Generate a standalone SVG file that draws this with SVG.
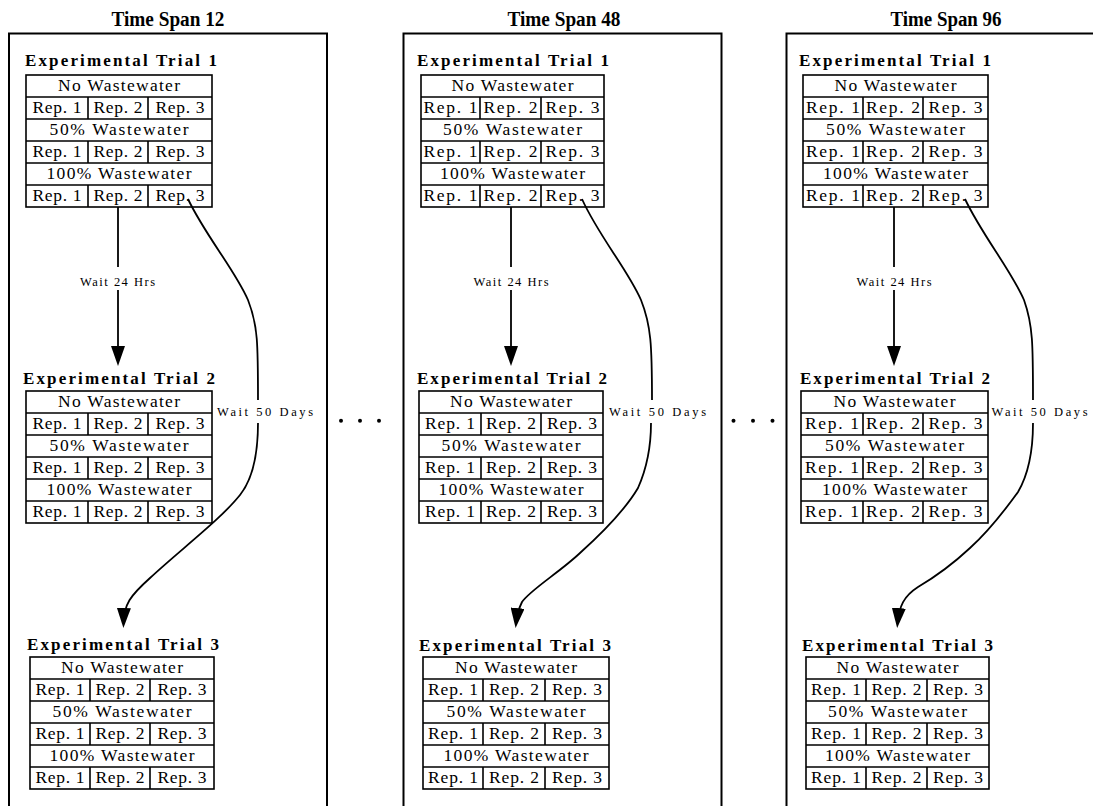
<svg xmlns="http://www.w3.org/2000/svg" width="1093" height="806" viewBox="0 0 1093 806">
  <defs>
    <style>
      .panel { fill: none; stroke: #000; stroke-width: 2; }
      .tbl { fill: #fff; stroke: #000; stroke-width: 1.6; }
      .grid { fill: none; stroke: #000; stroke-width: 1.6; }
      .span { font-family: "Liberation Serif", "Times New Roman", serif; font-weight: bold; font-size: 20px; text-anchor: middle; }
      .trial { font-family: "Liberation Serif", "Times New Roman", serif; font-weight: bold; font-size: 17px; }
      .cell { font-family: "Liberation Serif", "Times New Roman", serif; font-size: 17.5px; text-anchor: middle; }
      .lbl { font-family: "Liberation Serif", "Times New Roman", serif; font-size: 12.5px; }
      .conn { fill: none; stroke: #000; stroke-width: 1.8; }
      .dot { fill: #000; }
    </style>
    <marker id="ah" viewBox="0 0 20 14" refX="16" refY="7" markerWidth="20" markerHeight="14" orient="auto" markerUnits="userSpaceOnUse">
      <path d="M0,0 L20,7 L0,14 Z" fill="#000"/>
    </marker>
  </defs>
  <rect width="1093" height="806" fill="#fff"/>

  <!-- time span frames -->
  <g id="span12">
    <text class="span" x="168" y="26" textLength="113" lengthAdjust="spacingAndGlyphs">Time Span 12</text>
    <rect class="panel" x="9" y="33.5" width="318" height="800"/>
  </g>
  <g id="span48">
    <text class="span" x="564" y="26" textLength="113" lengthAdjust="spacingAndGlyphs">Time Span 48</text>
    <rect class="panel" x="403.5" y="33.5" width="318" height="800"/>
  </g>
  <g id="span96">
    <text class="span" x="946" y="26" textLength="111" lengthAdjust="spacingAndGlyphs">Time Span 96</text>
    <rect class="panel" x="786.5" y="33.5" width="318" height="800"/>
  </g>

  <!-- ===== Time Span 12 ===== -->
  <g id="s12-trial1">
    <text class="trial" x="25" y="66" textLength="192">Experimental Trial 1</text>
    <rect class="tbl" x="26" y="75" width="186" height="132"/>
    <path class="grid" d="M26,97H212M26,119H212M26,141H212M26,163H212M26,185H212M88,97V119M148,97V119M88,141V163M148,141V163M88,185V207M148,185V207"/>
    <text class="cell" x="119" y="91" textLength="122">No Wastewater</text>
    <text class="cell" x="57" y="113" textLength="49">Rep. 1</text>
    <text class="cell" x="118" y="113" textLength="49">Rep. 2</text>
    <text class="cell" x="180" y="113" textLength="49">Rep. 3</text>
    <text class="cell" x="119" y="135" textLength="139">50% Wastewater</text>
    <text class="cell" x="57" y="157" textLength="49">Rep. 1</text>
    <text class="cell" x="118" y="157" textLength="49">Rep. 2</text>
    <text class="cell" x="180" y="157" textLength="49">Rep. 3</text>
    <text class="cell" x="119" y="179" textLength="145">100% Wastewater</text>
    <text class="cell" x="57" y="201" textLength="49">Rep. 1</text>
    <text class="cell" x="118" y="201" textLength="49">Rep. 2</text>
    <text class="cell" x="180" y="201" textLength="49">Rep. 3</text>
  </g>
  <g id="s12-trial2">
    <text class="trial" x="23" y="384" textLength="192">Experimental Trial 2</text>
    <rect class="tbl" x="26" y="391" width="186" height="132"/>
    <path class="grid" d="M26,413H212M26,435H212M26,457H212M26,479H212M26,501H212M88,413V435M148,413V435M88,457V479M148,457V479M88,501V523M148,501V523"/>
    <text class="cell" x="119" y="407" textLength="122">No Wastewater</text>
    <text class="cell" x="57" y="429" textLength="49">Rep. 1</text>
    <text class="cell" x="118" y="429" textLength="49">Rep. 2</text>
    <text class="cell" x="180" y="429" textLength="49">Rep. 3</text>
    <text class="cell" x="119" y="451" textLength="139">50% Wastewater</text>
    <text class="cell" x="57" y="473" textLength="49">Rep. 1</text>
    <text class="cell" x="118" y="473" textLength="49">Rep. 2</text>
    <text class="cell" x="180" y="473" textLength="49">Rep. 3</text>
    <text class="cell" x="119" y="495" textLength="145">100% Wastewater</text>
    <text class="cell" x="57" y="517" textLength="49">Rep. 1</text>
    <text class="cell" x="118" y="517" textLength="49">Rep. 2</text>
    <text class="cell" x="180" y="517" textLength="49">Rep. 3</text>
  </g>
  <g id="s12-trial3">
    <text class="trial" x="27" y="650" textLength="192">Experimental Trial 3</text>
    <rect class="tbl" x="30" y="657" width="184" height="132"/>
    <path class="grid" d="M30,679H214M30,701H214M30,723H214M30,745H214M30,767H214M90,679V701M150,679V701M90,723V745M150,723V745M90,767V789M150,767V789"/>
    <text class="cell" x="122" y="673" textLength="122">No Wastewater</text>
    <text class="cell" x="60" y="695" textLength="49">Rep. 1</text>
    <text class="cell" x="120" y="695" textLength="49">Rep. 2</text>
    <text class="cell" x="182" y="695" textLength="49">Rep. 3</text>
    <text class="cell" x="122" y="717" textLength="139">50% Wastewater</text>
    <text class="cell" x="60" y="739" textLength="49">Rep. 1</text>
    <text class="cell" x="120" y="739" textLength="49">Rep. 2</text>
    <text class="cell" x="182" y="739" textLength="49">Rep. 3</text>
    <text class="cell" x="122" y="761" textLength="145">100% Wastewater</text>
    <text class="cell" x="60" y="783" textLength="49">Rep. 1</text>
    <text class="cell" x="120" y="783" textLength="49">Rep. 2</text>
    <text class="cell" x="182" y="783" textLength="49">Rep. 3</text>
  </g>

  <!-- ===== Time Span 48 ===== -->
  <g id="s48-trial1">
    <text class="trial" x="417" y="66" textLength="192">Experimental Trial 1</text>
    <rect class="tbl" x="421" y="75" width="183" height="132"/>
    <path class="grid" d="M421,97H604M421,119H604M421,141H604M421,163H604M421,185H604M480,97V119M541,97V119M480,141V163M541,141V163M480,185V207M541,185V207"/>
    <text class="cell" x="512.5" y="91" textLength="122">No Wastewater</text>
    <text class="cell" x="450.5" y="113" textLength="54">Rep. 1</text>
    <text class="cell" x="510.5" y="113" textLength="54">Rep. 2</text>
    <text class="cell" x="572.5" y="113" textLength="54">Rep. 3</text>
    <text class="cell" x="512.5" y="135" textLength="139">50% Wastewater</text>
    <text class="cell" x="450.5" y="157" textLength="54">Rep. 1</text>
    <text class="cell" x="510.5" y="157" textLength="54">Rep. 2</text>
    <text class="cell" x="572.5" y="157" textLength="54">Rep. 3</text>
    <text class="cell" x="512.5" y="179" textLength="145">100% Wastewater</text>
    <text class="cell" x="450.5" y="201" textLength="54">Rep. 1</text>
    <text class="cell" x="510.5" y="201" textLength="54">Rep. 2</text>
    <text class="cell" x="572.5" y="201" textLength="54">Rep. 3</text>
  </g>
  <g id="s48-trial2">
    <text class="trial" x="417" y="384" textLength="190">Experimental Trial 2</text>
    <rect class="tbl" x="419" y="391" width="184" height="132"/>
    <path class="grid" d="M419,413H603M419,435H603M419,457H603M419,479H603M419,501H603M481,413V435M541,413V435M481,457V479M541,457V479M481,501V523M541,501V523"/>
    <text class="cell" x="511" y="407" textLength="122">No Wastewater</text>
    <text class="cell" x="450" y="429" textLength="50">Rep. 1</text>
    <text class="cell" x="511" y="429" textLength="50">Rep. 2</text>
    <text class="cell" x="572" y="429" textLength="50">Rep. 3</text>
    <text class="cell" x="511" y="451" textLength="139">50% Wastewater</text>
    <text class="cell" x="450" y="473" textLength="50">Rep. 1</text>
    <text class="cell" x="511" y="473" textLength="50">Rep. 2</text>
    <text class="cell" x="572" y="473" textLength="50">Rep. 3</text>
    <text class="cell" x="511" y="495" textLength="145">100% Wastewater</text>
    <text class="cell" x="450" y="517" textLength="50">Rep. 1</text>
    <text class="cell" x="511" y="517" textLength="50">Rep. 2</text>
    <text class="cell" x="572" y="517" textLength="50">Rep. 3</text>
  </g>
  <g id="s48-trial3">
    <text class="trial" x="419" y="651" textLength="192">Experimental Trial 3</text>
    <rect class="tbl" x="423" y="657" width="186" height="132"/>
    <path class="grid" d="M423,679H609M423,701H609M423,723H609M423,745H609M423,767H609M483,679V701M545,679V701M483,723V745M545,723V745M483,767V789M545,767V789"/>
    <text class="cell" x="516" y="673" textLength="122">No Wastewater</text>
    <text class="cell" x="453" y="695" textLength="50">Rep. 1</text>
    <text class="cell" x="514" y="695" textLength="50">Rep. 2</text>
    <text class="cell" x="577" y="695" textLength="50">Rep. 3</text>
    <text class="cell" x="516" y="717" textLength="139">50% Wastewater</text>
    <text class="cell" x="453" y="739" textLength="50">Rep. 1</text>
    <text class="cell" x="514" y="739" textLength="50">Rep. 2</text>
    <text class="cell" x="577" y="739" textLength="50">Rep. 3</text>
    <text class="cell" x="516" y="761" textLength="145">100% Wastewater</text>
    <text class="cell" x="453" y="783" textLength="50">Rep. 1</text>
    <text class="cell" x="514" y="783" textLength="50">Rep. 2</text>
    <text class="cell" x="577" y="783" textLength="50">Rep. 3</text>
  </g>

  <!-- ===== Time Span 96 ===== -->
  <g id="s96-trial1">
    <text class="trial" x="799" y="66" textLength="192">Experimental Trial 1</text>
    <rect class="tbl" x="803" y="75" width="185" height="132"/>
    <path class="grid" d="M803,97H988M803,119H988M803,141H988M803,163H988M803,185H988M863,97V119M923,97V119M863,141V163M923,141V163M863,185V207M923,185V207"/>
    <text class="cell" x="895.5" y="91" textLength="122">No Wastewater</text>
    <text class="cell" x="833" y="113" textLength="54">Rep. 1</text>
    <text class="cell" x="893" y="113" textLength="54">Rep. 2</text>
    <text class="cell" x="955.5" y="113" textLength="54">Rep. 3</text>
    <text class="cell" x="895.5" y="135" textLength="139">50% Wastewater</text>
    <text class="cell" x="833" y="157" textLength="54">Rep. 1</text>
    <text class="cell" x="893" y="157" textLength="54">Rep. 2</text>
    <text class="cell" x="955.5" y="157" textLength="54">Rep. 3</text>
    <text class="cell" x="895.5" y="179" textLength="145">100% Wastewater</text>
    <text class="cell" x="833" y="201" textLength="54">Rep. 1</text>
    <text class="cell" x="893" y="201" textLength="54">Rep. 2</text>
    <text class="cell" x="955.5" y="201" textLength="54">Rep. 3</text>
  </g>
  <g id="s96-trial2">
    <text class="trial" x="800" y="384" textLength="190">Experimental Trial 2</text>
    <rect class="tbl" x="801" y="391" width="187" height="132"/>
    <path class="grid" d="M801,413H988M801,435H988M801,457H988M801,479H988M801,501H988M863,413V435M923,413V435M863,457V479M923,457V479M863,501V523M923,501V523"/>
    <text class="cell" x="894.5" y="407" textLength="122">No Wastewater</text>
    <text class="cell" x="832" y="429" textLength="54">Rep. 1</text>
    <text class="cell" x="893" y="429" textLength="54">Rep. 2</text>
    <text class="cell" x="955.5" y="429" textLength="54">Rep. 3</text>
    <text class="cell" x="894.5" y="451" textLength="139">50% Wastewater</text>
    <text class="cell" x="832" y="473" textLength="54">Rep. 1</text>
    <text class="cell" x="893" y="473" textLength="54">Rep. 2</text>
    <text class="cell" x="955.5" y="473" textLength="54">Rep. 3</text>
    <text class="cell" x="894.5" y="495" textLength="145">100% Wastewater</text>
    <text class="cell" x="832" y="517" textLength="54">Rep. 1</text>
    <text class="cell" x="893" y="517" textLength="54">Rep. 2</text>
    <text class="cell" x="955.5" y="517" textLength="54">Rep. 3</text>
  </g>
  <g id="s96-trial3">
    <text class="trial" x="802" y="651" textLength="191">Experimental Trial 3</text>
    <rect class="tbl" x="806" y="657" width="183" height="132"/>
    <path class="grid" d="M806,679H989M806,701H989M806,723H989M806,745H989M806,767H989M866,679V701M927,679V701M866,723V745M927,723V745M866,767V789M927,767V789"/>
    <text class="cell" x="897.5" y="673" textLength="122">No Wastewater</text>
    <text class="cell" x="836" y="695" textLength="50">Rep. 1</text>
    <text class="cell" x="896.5" y="695" textLength="50">Rep. 2</text>
    <text class="cell" x="958" y="695" textLength="50">Rep. 3</text>
    <text class="cell" x="897.5" y="717" textLength="139">50% Wastewater</text>
    <text class="cell" x="836" y="739" textLength="50">Rep. 1</text>
    <text class="cell" x="896.5" y="739" textLength="50">Rep. 2</text>
    <text class="cell" x="958" y="739" textLength="50">Rep. 3</text>
    <text class="cell" x="897.5" y="761" textLength="145">100% Wastewater</text>
    <text class="cell" x="836" y="783" textLength="50">Rep. 1</text>
    <text class="cell" x="896.5" y="783" textLength="50">Rep. 2</text>
    <text class="cell" x="958" y="783" textLength="50">Rep. 3</text>
  </g>

  <!-- connectors: 24 hour waits (straight) and 50 day waits (curved) -->
  <g id="connectors">
    <path class="conn" d="M118,207V267"/>
    <path class="conn" d="M118,290V362" marker-end="url(#ah)"/>
    <text class="lbl" x="80" y="285.5" textLength="75">Wait 24 Hrs</text>
    <path class="conn" d="M188,199C205,235 235,270 248,300C258,325 258,345 258,400"/>
    <path class="conn" d="M258,423C258,455 252,480 240,495C220,520 180,550 150,578C130,596 124,604 123.5,624" marker-end="url(#ah)"/>
    <text class="lbl" x="217" y="416" textLength="96">Wait 50 Days</text>

    <path class="conn" d="M511,207V267"/>
    <path class="conn" d="M511,290V362" marker-end="url(#ah)"/>
    <text class="lbl" x="473.5" y="285.5" textLength="75">Wait 24 Hrs</text>
    <path class="conn" d="M582,199C598,235 628,270 641,300C651,325 652,345 652,400"/>
    <path class="conn" d="M651,423C651,450 646,470 638,488C625,510 600,535 580,553C560,572 530,590 522,602C519,608 517,614 516,624" marker-end="url(#ah)"/>
    <text class="lbl" x="609" y="416" textLength="97">Wait 50 Days</text>

    <path class="conn" d="M894,207V267"/>
    <path class="conn" d="M894,290V362" marker-end="url(#ah)"/>
    <text class="lbl" x="856.5" y="285.5" textLength="75">Wait 24 Hrs</text>
    <path class="conn" d="M965,199C982,235 1011,270 1024,300C1033,325 1033,345 1033,400"/>
    <path class="conn" d="M1033,423C1033,450 1028,475 1018,492C1005,510 990,530 970,548C955,562 935,577 918,587C904,596 899,606 897.5,624" marker-end="url(#ah)"/>
    <text class="lbl" x="991.5" y="416" textLength="96">Wait 50 Days</text>
  </g>

  <!-- ellipses between time spans -->
  <g id="ellipsis-1">
    <circle class="dot" cx="341" cy="420.7" r="2"/>
    <circle class="dot" cx="360" cy="420.7" r="2"/>
    <circle class="dot" cx="379" cy="420.7" r="2"/>
  </g>
  <g id="ellipsis-2">
    <circle class="dot" cx="733.5" cy="420.7" r="2"/>
    <circle class="dot" cx="753" cy="420.7" r="2"/>
    <circle class="dot" cx="772.5" cy="420.7" r="2"/>
  </g>
</svg>
